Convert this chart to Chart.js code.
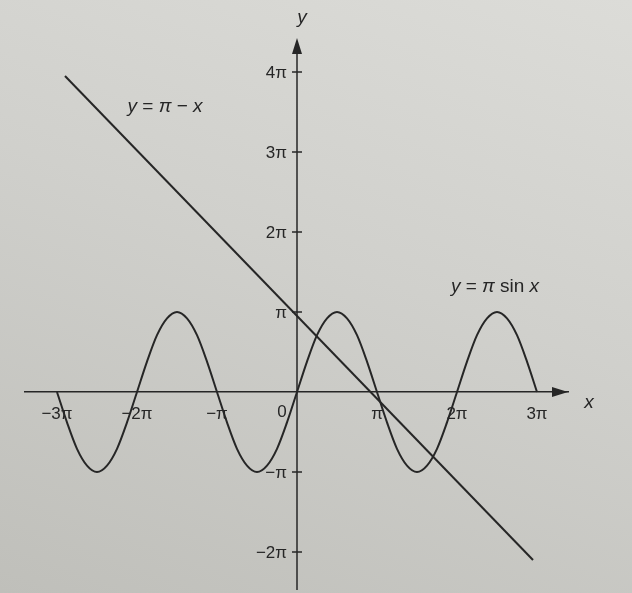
<!DOCTYPE html>
<html>
<head>
<meta charset="utf-8">
<title>y = π − x and y = π sin x</title>
<script src="https://cdn.jsdelivr.net/npm/chart.js@4/dist/chart.umd.min.js"></script>
<style>
  html, body { margin: 0; padding: 0; overflow: hidden; }
  body {
    width: 632px; height: 593px;
    background: linear-gradient(200deg, #dcdcd8 0%, #d0d0cc 45%, #bfbfba 100%);
  }
  #wrap { position: relative; width: 632px; height: 593px; }
</style>
</head>
<body>
<div id="wrap"><canvas id="graph"></canvas></div>
<script>
// all values in units of π
const xTickValues = [-3, -2, -1, 1, 2, 3];
const xTickLabels = ["−3π", "−2π", "−π", "π", "2π", "3π"];
const yTickValues = [-2, -1, 1, 2, 3, 4];
const yTickLabels = ["−2π", "−π", "π", "2π", "3π", "4π"];

// y = π sin x, read every π/8
const sineX = [-3, -2.875, -2.75, -2.625, -2.5, -2.375, -2.25, -2.125,
               -2, -1.875, -1.75, -1.625, -1.5, -1.375, -1.25, -1.125,
               -1, -0.875, -0.75, -0.625, -0.5, -0.375, -0.25, -0.125,
               0, 0.125, 0.25, 0.375, 0.5, 0.625, 0.75, 0.875,
               1, 1.125, 1.25, 1.375, 1.5, 1.625, 1.75, 1.875,
               2, 2.125, 2.25, 2.375, 2.5, 2.625, 2.75, 2.875, 3];
const sineY = [0, -0.38, -0.71, -0.92, -1, -0.92, -0.71, -0.38,
               0, 0.38, 0.71, 0.92, 1, 0.92, 0.71, 0.38,
               0, -0.38, -0.71, -0.92, -1, -0.92, -0.71, -0.38,
               0, 0.38, 0.71, 0.92, 1, 0.92, 0.71, 0.38,
               0, -0.38, -0.71, -0.92, -1, -0.92, -0.71, -0.38,
               0, 0.38, 0.71, 0.92, 1, 0.92, 0.71, 0.38, 0];

// y = π − x, its two end points
const lineX = [-2.9, 2.95];
const lineY = [3.95, -2.1];

const ink = "#262626";
const font = "'Liberation Sans', Arial, sans-serif";

function toPoints(xs, ys) {
    return xs.map((v, i) => ({ x: v, y: ys[i] }));
}

function drawRuns(ctx, runs, cx, cy, size) {
    const fontFor = r => (r[1] ? "italic " : "") + size + "px " + font;
    let total = 0;
    runs.forEach(r => { ctx.font = fontFor(r); total += ctx.measureText(r[0]).width; });
    let px = cx - total / 2;
    ctx.textBaseline = "middle";
    ctx.textAlign = "left";
    runs.forEach(r => {
        ctx.font = fontFor(r);
        ctx.fillText(r[0], px, cy);
        px += ctx.measureText(r[0]).width;
    });
}

const decorations = {
    id: "decorations",
    afterDraw(chart) {
        const { ctx, chartArea, scales } = chart;
        const x0 = scales.x.getPixelForValue(0);
        const y0 = scales.y.getPixelForValue(0);
        ctx.save();
        ctx.fillStyle = ink;
        ctx.strokeStyle = ink;
        ctx.lineWidth = 1.5;

        // y axis carried on down to the bottom edge
        ctx.beginPath();
        ctx.moveTo(x0, chartArea.top + 10);
        ctx.lineTo(x0, 590);
        ctx.stroke();

        // arrow heads
        ctx.beginPath();
        ctx.moveTo(x0, chartArea.top);
        ctx.lineTo(x0 - 5, chartArea.top + 16);
        ctx.lineTo(x0 + 5, chartArea.top + 16);
        ctx.closePath();
        ctx.fill();
        ctx.beginPath();
        ctx.moveTo(chartArea.right, y0);
        ctx.lineTo(chartArea.right - 16, y0 - 5);
        ctx.lineTo(chartArea.right - 16, y0 + 5);
        ctx.closePath();
        ctx.fill();

        // y ticks: marks across the axis, labels on the left
        ctx.font = "17px " + font;
        ctx.textAlign = "right";
        ctx.textBaseline = "middle";
        yTickValues.forEach((v, i) => {
            const py = scales.y.getPixelForValue(v);
            ctx.beginPath();
            ctx.moveTo(x0 - 5, py);
            ctx.lineTo(x0 + 5, py);
            ctx.stroke();
            ctx.fillText(yTickLabels[i], x0 - 10, py + 1);
        });

        // axis names and origin
        ctx.textAlign = "center";
        ctx.font = "italic 19px " + font;
        ctx.fillText("y", x0 + 5, 18);
        ctx.fillText("x", chartArea.right + 21, y0 + 11);
        ctx.font = "17px " + font;
        ctx.fillText("0", x0 - 15, y0 + 20);

        // curve names
        drawRuns(ctx, [["y", true], [" = ", false], ["π", true], [" − ", false], ["x", true]], 165, 107, 19);
        drawRuns(ctx, [["y", true], [" = ", false], ["π", true], [" sin ", false], ["x", true]], 495, 287, 19);
        ctx.restore();
    }
};

new Chart(document.getElementById("graph"), {
    type: "scatter",
    data: {
        datasets: [
            {
                label: "y = π sin x",
                data: toPoints(sineX, sineY),
                showLine: true,
                borderColor: ink,
                borderWidth: 2,
                pointRadius: 0,
                cubicInterpolationMode: "monotone"
            },
            {
                label: "y = π − x",
                data: toPoints(lineX, lineY),
                showLine: true,
                borderColor: ink,
                borderWidth: 2,
                pointRadius: 0
            }
        ]
    },
    plugins: [decorations],
    options: {
        responsive: true,
        maintainAspectRatio: false,
        animation: false,
        layout: { padding: { left: 25, right: 64, top: 38, bottom: 12 } },
        plugins: { legend: { display: false }, tooltip: { enabled: false } },
        scales: {
            x: {
                type: "linear",
                min: -3.4,
                max: 3.3875,
                position: { y: 0 },
                border: { display: true, color: ink, width: 1.5 },
                grid: { display: true, drawOnChartArea: false, drawTicks: false },
                afterBuildTicks: scale => { scale.ticks = xTickValues.map(v => ({ value: v })); },
                ticks: {
                    padding: 12,
                    color: ink,
                    font: { family: font, size: 17 },
                    callback: v => xTickLabels[xTickValues.indexOf(v)]
                }
            },
            y: {
                type: "linear",
                min: -2.3625,
                max: 4.425,
                position: { x: 0 },
                border: { display: false },
                grid: { display: false, drawOnChartArea: false, drawTicks: false },
                afterBuildTicks: scale => { scale.ticks = yTickValues.map(v => ({ value: v })); },
                ticks: { display: false, padding: 0 }
            }
        }
    }
});
</script>
</body>
</html>
